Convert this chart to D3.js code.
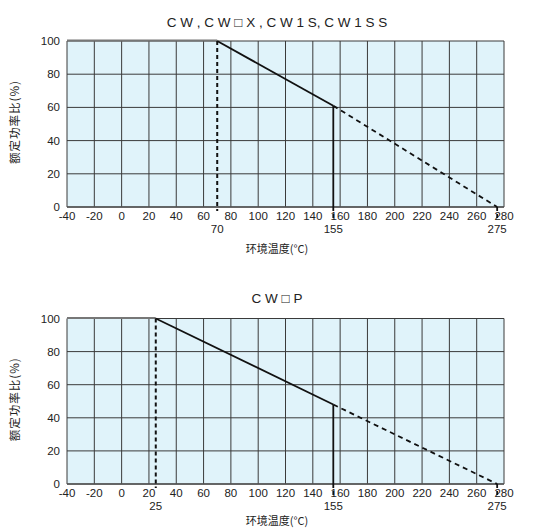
<!DOCTYPE html>
<html><head><meta charset="utf-8">
<script src="https://cdn.jsdelivr.net/npm/d3@7"></script>
<style>
body{margin:0;background:#fff;}
text{font-family:"Liberation Sans",Arial,sans-serif;fill:#222;}
.cjk{font-family:"Noto Sans CJK SC","Noto Sans",sans-serif;}
</style></head>
<body><svg id="c" width="537" height="531"></svg>
<script>
const xTicks = [-40,-20,0,20,40,60,80,100,120,140,160,180,200,220,240,260,280];
const yTicks = [0,20,40,60,80,100];
const titles = ["C W , C W \u25A1 X , C W 1 S, C W 1 S S", "C W \u25A1 P"];
const xLabel = "环境温度(°C)";
const yLabel = "额定功率比(%)";
// derating curves: [temp, percent]
const curveTop = [[-40,100],[70,100],[155,61],[275,0]];
const curveBottom = [[-40,100],[25,100],[155,48],[275,0]];
const kneeTop = [70,155,275];
const kneeBottom = [25,155,275];

const svg = d3.select("#c");
const panels = [
  {curve: curveTop, knees: kneeTop, title: titles[0], top: 41, bottom: 207, titleY: 27, xLabY: 253},
  {curve: curveBottom, knees: kneeBottom, title: titles[1], top: 318.5, bottom: 484, titleY: 303, xLabY: 525}
];
const left = 67, right = 504, midX = 277;

panels.forEach(p => {
  const x = d3.scaleLinear().domain([-40,280]).range([left,right]);
  const y = d3.scaleLinear().domain([0,100]).range([p.bottom,p.top]);
  const g = svg.append("g");
  g.append("rect").attr("x",left).attr("y",p.top).attr("width",right-left).attr("height",p.bottom-p.top).attr("fill","#e0f3fa");
  g.selectAll(".vg").data(xTicks).enter().append("line")
    .attr("x1",d=>x(d)).attr("x2",d=>x(d)).attr("y1",p.top).attr("y2",p.bottom)
    .attr("stroke","#3a3a3a").attr("stroke-width",1);
  g.selectAll(".hg").data(yTicks).enter().append("line")
    .attr("x1",left).attr("x2",right).attr("y1",d=>y(d)).attr("y2",d=>y(d))
    .attr("stroke","#3a3a3a").attr("stroke-width",1);
  g.append("line").attr("x1",left).attr("x2",right).attr("y1",p.bottom).attr("y2",p.bottom).attr("stroke","#555").attr("stroke-width",1.5);
  g.selectAll(".xl").data(xTicks).enter().append("text")
    .attr("x",d=>x(d)).attr("y",p.bottom+13).attr("text-anchor","middle")
    .attr("font-size",11.5).text(d=>d);
  g.selectAll(".yl").data(yTicks).enter().append("text")
    .attr("x",left-7).attr("y",d=>y(d)+4).attr("text-anchor","end")
    .attr("font-size",11.5).text(d=>d);
  g.selectAll(".kl").data(p.knees).enter().append("text")
    .attr("x",d=>x(d)).attr("y",p.bottom+26).attr("text-anchor","middle")
    .attr("font-size",11.5).text(d=>d);
  g.append("text").attr("x",midX).attr("y",p.titleY).attr("text-anchor","middle")
    .attr("font-size",13.5).text(p.title);
  g.append("text").attr("class","cjk").attr("x",midX).attr("y",p.xLabY).attr("text-anchor","middle")
    .attr("font-size",11).text(xLabel);
  const cy = (p.top+p.bottom)/2 - 2;
  g.append("text").attr("class","cjk").attr("transform",`translate(19,${cy}) rotate(-90)`)
    .attr("text-anchor","middle").attr("font-size",11.5).attr("letter-spacing",1).text(yLabel);

  const c = p.curve;
  g.append("line").attr("x1",x(c[0][0])).attr("x2",x(c[1][0])).attr("y1",y(c[0][1])-0.5).attr("y2",y(c[1][1])-0.5)
    .attr("stroke","#777").attr("stroke-width",2);
  g.append("line").attr("x1",x(c[1][0])).attr("x2",x(c[1][0])).attr("y1",y(c[1][1])).attr("y2",p.bottom+4)
    .attr("stroke","#111").attr("stroke-width",2).attr("stroke-dasharray","4,3");
  g.append("line").attr("x1",x(c[1][0])).attr("x2",x(c[2][0])).attr("y1",y(c[1][1])).attr("y2",y(c[2][1]))
    .attr("stroke","#111").attr("stroke-width",1.8);
  g.append("line").attr("x1",x(c[2][0])).attr("x2",x(c[2][0])).attr("y1",y(c[2][1])).attr("y2",p.bottom)
    .attr("stroke","#111").attr("stroke-width",1.8);
  g.append("line").attr("x1",x(c[2][0])).attr("x2",x(c[3][0])).attr("y1",y(c[2][1])).attr("y2",y(c[3][1]))
    .attr("stroke","#111").attr("stroke-width",1.8).attr("stroke-dasharray","5,4");
  [c[2][0], c[3][0]].forEach(t => {
    g.append("line").attr("x1",x(t)).attr("x2",x(t)).attr("y1",p.bottom).attr("y2",p.bottom+11)
      .attr("stroke","#111").attr("stroke-width",1.8).attr("stroke-dasharray","4,3");
  });
});
</script></body></html>
